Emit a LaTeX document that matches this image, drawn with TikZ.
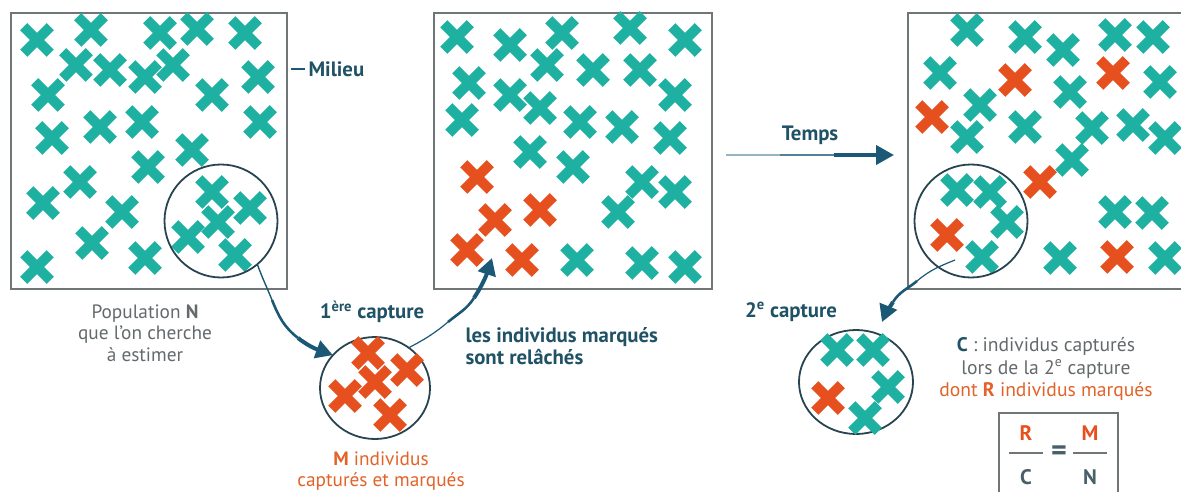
\documentclass[tikz,border=0pt]{standalone}
\usepackage{fontspec}
\setmainfont{PT Sans}
\usetikzlibrary{%
  arrows.meta,%
  shapes.misc,% wg. cross out
  shapes.geometric,% wg. ellipse
  calc%
}

\definecolor{sarcelle}{RGB}{30,176,160}
\definecolor{marque}{RGB}{230,80,30}
\definecolor{fleche}{RGB}{26,88,118}
\definecolor{contour}{RGB}{40,68,80}
\definecolor{cadre}{RGB}{112,117,120}
\definecolor{texte}{RGB}{100,105,108}
\definecolor{titre}{RGB}{32,82,102}
\definecolor{orangetxt}{RGB}{226,98,40}

\begin{document}
\begin{tikzpicture}
  [
  x=1pt, y=1pt,
  font=\fontsize{19.3}{21.5}\selectfont,
  milieu/.style={rectangle, draw=cadre, line width=2pt, minimum height=276pt, inner sep=0pt},
  zone/.style={circle, draw=contour, line width=1.8pt, minimum size=113pt, inner sep=0pt, outer sep=0pt},
  prise/.style={ellipse, draw=contour, line width=1.8pt, inner sep=0pt, outer sep=0pt},
  tcross/.style={cross out, draw=sarcelle, line width=10pt, minimum size=16.5pt, inner sep=0pt},
  rcross/.style={tcross, draw=marque},
  legende/.style={text=texte, align=center},
  etiq/.style={text=titre, font=\fontsize{20.8}{22.5}\selectfont\bfseries},
  lettre/.style={font=\fontsize{21}{22}\selectfont\bfseries},
  fl/.style={draw=fleche},
  pointe/.style={-{Triangle[length=17pt, width=18pt]}}
  ]

\useasboundingbox (0,0) rectangle (1181,-492);

% the three states of the environment
\node[milieu, minimum width=276pt] (box1) at (149,-151) {};
\node[milieu, minimum width=278pt] (box2) at (573,-151) {};
\node[milieu, minimum width=282pt] (box3) at (1049,-151) {};

\foreach \x/\y [count=\i] in {37/40, 91/30, 160/33, 197/29, 245/33, 76/65, 110/70,
  145/77, 173/65, 258/77, 48/95, 212/95, 100/127, 142/122, 260/122, 52/138, 192/150,
  148/167, 80/182, 43/203, 122/212, 212/192, 250/208, 218/222, 188/237, 235/255,
  92/243, 145/258, 37/267} {
  \node[tcross] (p\i) at (\x,-\y) {};
}

\foreach \x/\y [count=\i] in {457/37, 510/45, 562/33, 630/28, 685/40, 547/65, 593/70,
  640/70, 469/83, 510/95, 540/108, 675/95, 462/120, 580/122, 622/127, 670/138, 530/152,
  573/167, 642/182, 675/192, 618/212, 577/260, 642/263, 685/267} {
  \node[tcross] (q\i) at (\x,-\y) {};
}
\foreach \x/\y [count=\i] in {477/177, 495/220, 540/210, 467/250, 522/260} {
  \node[rcross] (qm\i) at (\x,-\y) {};
}

\foreach \x/\y [count=\i] in {967/30, 1025/37, 1063/50, 1115/35, 1153/37, 940/73,
  1070/92, 1160/82, 980/105, 967/137, 1025/127, 1092/128, 1133/125, 1165/138, 1072/160,
  957/190, 990/192, 1007/222, 982/257, 1060/258, 1115/212, 1152/213, 1165/258} {
  \node[tcross] (s\i) at (\x,-\y) {};
}
\foreach \x/\y [count=\i] in {1015/80, 1113/73, 932/117, 1040/182, 947/235, 1117/257} {
  \node[rcross] (sm\i) at (\x,-\y) {};
}

% captures
\node[zone] (c1) at (221,-221) {};
\node[zone] (c3) at (971,-221) {};
\node[prise, minimum width=110pt, minimum height=102pt] (c2) at (375,-388) {};
\node[prise, minimum width=114pt, minimum height=104pt] (c4) at (856,-382) {};

\foreach \x/\y [count=\i] in {368/353, 407/370, 375/382, 345/396, 390/415} {
  \node[rcross] (m\i) at (\x,-\y) {};
}
\foreach \x/\y [count=\i] in {837/350, 873/350, 888/387, 865/418} {
  \node[tcross] (k\i) at (\x,-\y) {};
}
\node[rcross] (km1) at (828,-398) {};

% labels
\node[etiq, anchor=west] (mil) at (305,-69) {Milieu};
\draw[fl, line width=1.5pt] ([xshift=3pt]box1.east |- mil.west) -- (mil.west);

\node[legende] (pop) at (145,-333) {Population \textbf{N}\\que l’on cherche\\à estimer};
\node[etiq] (cap1) at (372,-312) {1\textsuperscript{ère} capture};
\node[text=orangetxt, align=center] (mind) at (381,-471) {\textbf{M} individus\\capturés et marqués};
\node[etiq, anchor=west, align=left] (rel) at (462,-346) {les individus marqués\\sont relâchés};
\node[etiq] (temps) at (810,-135) {Temps};
\node[etiq] (cap2) at (791,-312) {2\textsuperscript{e} capture};
\node[legende, font=\fontsize{19.6}{22.5}\selectfont] (ctxt) at (1046,-369)
  {{\color{titre}\textbf{C}} : individus capturés\\lors de la 2\textsuperscript{e} capture\\\color{orangetxt}dont \textbf{R} individus marqués};

% formula
\node[draw=cadre, line width=2pt, minimum width=119pt, minimum height=82pt] (fml) at (1058.5,-454) {};
\node[lettre, text=marque] (fR) at (1026,-433) {R};
\node[lettre, text=contour!85] (fC) at (1026,-477) {C};
\node[lettre, text=marque] (fM) at (1090,-433) {M};
\node[lettre, text=contour!85] (fN) at (1090,-477) {N};
\node[text=contour!85, font=\fontsize{30}{30}\selectfont\bfseries] (feq) at (1059,-453) {=};
\draw[cadre, line width=2pt] ($(fR)!0.5!(fC)+(-17,2)$) -- ++(34,0);
\draw[cadre, line width=2pt] ($(fM)!0.5!(fN)+(-17,2)$) -- ++(34,0);

% 1st capture
\coordinate (a1) at (272,-300);
\coordinate (a2) at (298,-338);
\draw[fl, line width=1.4pt] (c1.-50) to[out=-70,in=112] (a1);
\draw[fl, line width=2.6pt] (a1) to[out=-68,in=142] (a2);
\draw[fl, line width=4pt, pointe] (a2) to[out=-38,in=160] (c2.142);

% release
\coordinate (b1) at (448,-322);
\coordinate (b2) at (474,-298);
\coordinate (relpt) at (492,-258);
\draw[fl, line width=1.2pt] (c2.50) to[out=28,in=-140] (b1);
\draw[fl, line width=2.6pt] (b1) to[out=40,in=-123] (b2);
\draw[fl, line width=4pt, pointe] (b2) to[out=57,in=-108] (relpt);

% time
\coordinate (t0) at ($(box2.east)+(13,-4)$);
\coordinate (t1) at ($(t0)+(54,0)$);
\coordinate (t2) at ($(t0)+(108,0)$);
\coordinate (t3) at ($(box3.west)+(-13,-4)$);
\draw[draw=fleche!45, line width=1.6pt] (t0) -- (t1);
\draw[draw=fleche!75, line width=2.8pt] (t1) -- (t2);
\draw[fl, line width=4pt, -{Triangle[length=18pt, width=19pt]}] (t2) -- (t3);

% 2nd capture
\coordinate (d0) at ($(c3.center)+(-16,-39)$);
\coordinate (d1) at (917,-281);
\coordinate (d2) at (893,-302);
\coordinate (d3) at ($(c4.center)+(26,60)$);
\draw[fl, line width=1.2pt] (d0) to[out=-158,in=40] (d1);
\draw[fl, line width=2.6pt] (d1) to[out=-140,in=58] (d2);
\draw[fl, line width=4pt, pointe] (d2) to[out=-122,in=68] (d3);
\end{tikzpicture}
\end{document}
